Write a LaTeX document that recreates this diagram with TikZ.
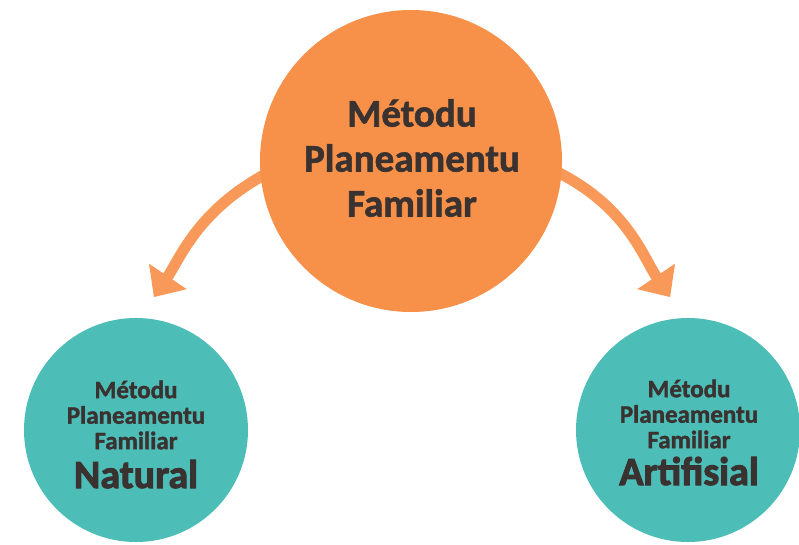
\documentclass[tikz,border=0pt]{standalone}
\usepackage{fontspec}
\setmainfont{Carlito}[BoldFeatures={FakeBold=1.5}]
\newfontfamily\heavyfont{Carlito Bold}[FakeBold=2.5]
\usetikzlibrary{arrows.meta,backgrounds}
\definecolor{orangeC}{HTML}{F7914A}
\definecolor{orangeA}{HTML}{F8995A}
\definecolor{tealC}{HTML}{4DBDB7}
\definecolor{txt}{HTML}{3A3230}
\begin{document}
\begin{tikzpicture}[x=1pt,y=-1pt,
  bubble/.style={circle, inner sep=0pt, draw=none},
  maintxt/.style={align=center, text=txt, inner sep=0pt, font=\bfseries\fontsize{39}{45}\selectfont},
  subtxt/.style={align=center, text=txt, inner sep=0pt, font=\bfseries\fontsize{25}{25.5}\selectfont},
  kindtxt/.style={text=txt, inner sep=0pt, font=\heavyfont\fontsize{40}{41}\selectfont},
  flow/.style={orangeA, line width=11pt, -{Triangle[width=44pt,length=25pt]}}]
\useasboundingbox (0,0) rectangle (799,545);
\node[bubble, fill=tealC, minimum size=224pt] (left) at (136,430) {};
\node[bubble, fill=tealC, minimum size=224pt] (right) at (688,430) {};
\node[bubble, fill=orangeC, minimum size=302pt] (main) at (411,161) {};
\begin{scope}[on background layer]
\draw[flow, shorten <=-4pt, shorten >=25pt] (main.186) to[out=209, in=56] (left.88);
\draw[flow, shorten <=-4pt, shorten >=25pt] (main.355) to[out=333, in=124] (right.92);
\end{scope}
\node[maintxt] (mainlabel) at (412,158) {Métodu\\Planeamentu\\Familiar};
\node[subtxt] (leftlabel) at (136,415) {Métodu\\Planeamentu\\Familiar};
\node[kindtxt, anchor=base] (leftkind) at (136,488) {Natural};
\node[subtxt] (rightlabel) at (689,414) {Métodu\\Planeamentu\\Familiar};
\node[kindtxt, anchor=base] (rightkind) at (689,485) {Artifisial};
\end{tikzpicture}
\end{document}
